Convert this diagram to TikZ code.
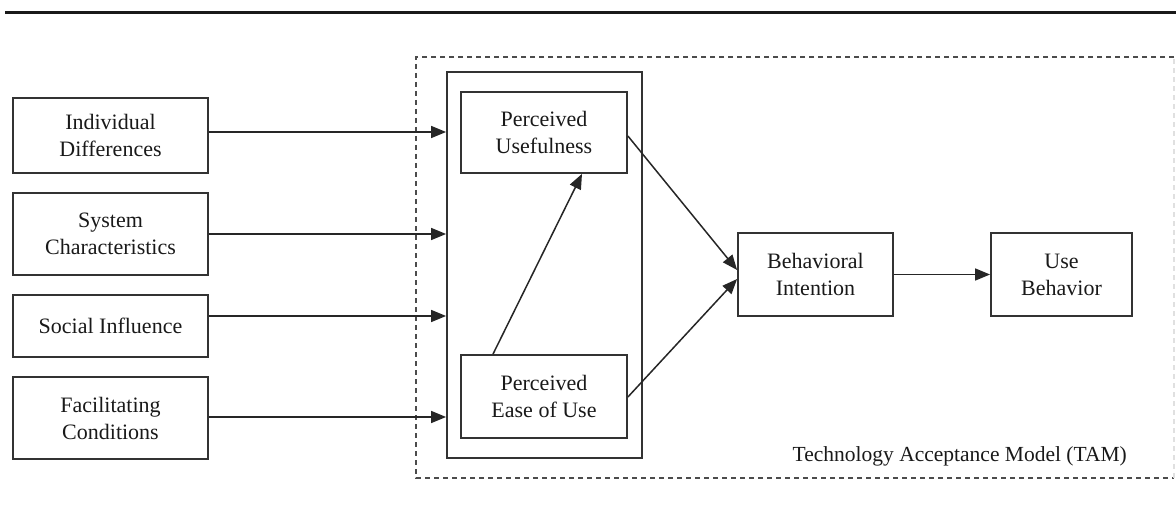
\documentclass[tikz,border=0pt]{standalone}
\usepackage{fontspec}
\setmainfont{Liberation Serif}
\usetikzlibrary{arrows.meta}
\begin{document}
\begin{tikzpicture}[x=1pt,y=-1pt,
  box/.style={draw=black!80, line width=1.8pt, align=center, inner sep=0pt,
    font=\fontsize{22}{27}\selectfont, text=black!90},
  arr/.style={draw=black!85, line width=1.5pt, -{Triangle[length=15pt,width=12pt]}},
  tamline/.style={draw=black!70, line width=1.8pt, dash pattern=on 5pt off 4pt}]
\useasboundingbox (0,0) rectangle (1176,519);
% top rule
\coordinate (rl) at (5,13);
\coordinate (rr) at (1176,13);
\draw[line width=3pt, black!90] (rl) -- (rr);
% dashed TAM frame
\coordinate (t1) at (1174,57);
\coordinate (t2) at (416,57);
\coordinate (t3) at (416,478);
\coordinate (t4) at (1174,478);
\draw[tamline] (t1) -- (t2) -- (t3) -- (t4);
\draw[tamline, draw=black!12] (t4) -- (t1);
% inner solid frame
\node[draw=black!80, line width=1.8pt, minimum width=195pt, minimum height=386pt, inner sep=0pt] (inner) at (544.5,265) {};
% left boxes
\node[box, minimum width=195pt, minimum height=75pt] (id) at (110.5,135.5) {Individual\\Differences};
\node[box, minimum width=195pt, minimum height=82pt] (sc) at (110.5,234) {System\\Characteristics};
\node[box, minimum width=195pt, minimum height=62pt] (si) at (110.5,326) {Social Influence};
\node[box, minimum width=195pt, minimum height=82pt] (fc) at (110.5,418) {Facilitating\\Conditions};
% TAM boxes
\node[box, minimum width=166pt, minimum height=81pt] (pu) at (544,132.5) {Perceived\\Usefulness};
\node[box, minimum width=166pt, minimum height=83pt] (peou) at (544,396.5) {Perceived\\Ease of Use};
\node[box, minimum width=155pt, minimum height=83pt] (bi) at (815.5,274.5) {Behavioral\\Intention};
\node[box, minimum width=141pt, minimum height=83pt] (ub) at (1061.5,274.5) {Use\\Behavior};
% label
\node[anchor=base east, font=\fontsize{21.5}{27}\selectfont, text=black!90, inner sep=0pt] (tam) at (1127,461) {Technology Acceptance Model (TAM)};
% arrows into inner frame
\draw[arr] (id.east |- 0,132) -- (inner.west |- 0,132);
\draw[arr] (sc.east |- 0,234) -- (inner.west |- 0,234);
\draw[arr] (si.east |- 0,316) -- (inner.west |- 0,316);
\draw[arr] (fc.east |- 0,417) -- (inner.west |- 0,417);
% internal arrows
\draw[arr] (peou.north -| 493,0) -- (pu.south -| 582,0);
\draw[arr] (pu.east |- 0,136) -- (bi.west |- 0,270);
\draw[arr] (peou.east |- 0,397) -- (bi.west |- 0,279);
\draw[arr] (bi.east) -- (ub.west);
\end{tikzpicture}
\end{document}
